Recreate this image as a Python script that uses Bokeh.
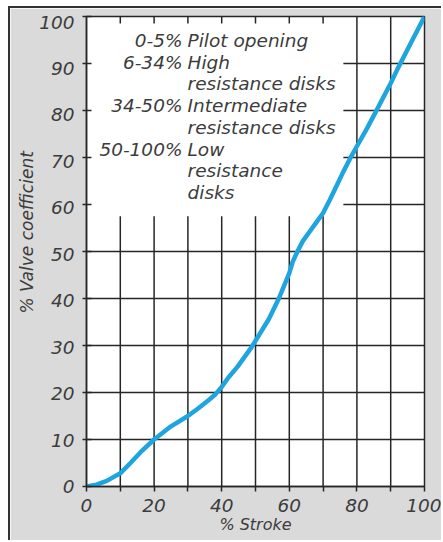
from bokeh.plotting import figure
from bokeh.models import Range1d, FixedTicker, Title, LinearAxis
from bokeh.core.properties import value
from bokeh.embed import file_html
from bokeh.resources import INLINE

# ---- data ----
stroke = [0, 3, 6, 10, 13, 16, 20, 25, 30, 33, 36, 38, 40, 42, 44.7, 48.8, 50, 54, 56.9,
          60, 61, 62.4, 64, 66, 68, 70, 72, 74, 76, 78, 80, 83, 86, 90, 92, 96, 100]
coeff = [0, 0.4, 1.2, 2.8, 5, 7.3, 10, 12.8, 15, 16.6, 18.3, 19.5, 21.2, 23.2, 25.5, 29.6, 31, 35.7, 40,
         45.4, 47.8, 50, 52.2, 54.2, 56.2, 58.2, 61, 64, 67, 69.8, 72.4, 76.2, 80.3, 85.8, 88.8, 94.4, 100]

x_ticks = [0, 20, 40, 60, 80, 100]
x_minor = [10, 30, 50, 70, 90]
y_ticks = [0, 10, 20, 30, 40, 50, 60, 70, 80, 90, 100]

band_ranges = ["0-5%", "6-34%", "34-50%", "50-100%"]
band_texts = [["Pilot opening"],
              ["High", "resistance disks"],
              ["Intermediate", "resistance disks"],
              ["Low", "resistance", "disks"]]

x_title = "% Stroke"
y_title = "% Valve coefficient"

FONT = "DejaVu Sans"
TXT = "#3c3c3c"
GRID = "#262626"
BLUE = "#1ea4df"
BG = "#dadada"

# the printed y labels sit a few pixels below their grid lines near the top
LAB_END = 101.2

p = figure(width=433, height=534, output_backend="svg", toolbar_location=None,
           x_range=Range1d(0, 100), y_range=Range1d(0, 100),
           min_border_left=76, min_border_right=19, min_border_top=8, min_border_bottom=56,
           background_fill_color="white", border_fill_color=BG,
           styles={"margin-left": "8px", "margin-top": "6px",
                   "border-left": "2px solid #333", "border-top": "2px solid #333"})
p.extra_y_ranges = {"lab": Range1d(0, LAB_END)}

p.xgrid.visible = False
p.ygrid.visible = False
p.outline_line_color = GRID
p.outline_line_width = 1.5

# grid lines (interrupted by the text block in the upper left)
vx0, vx1, vy0, vy1 = [], [], [], []
for gx in sorted(x_minor + x_ticks[1:-1]):
    top = 100 if gx >= 80 else 57.5
    vx0.append(gx); vx1.append(gx); vy0.append(0); vy1.append(top)
    if gx < 80:  # short stub under the top edge
        vx0.append(gx); vx1.append(gx); vy0.append(100); vy1.append(98.5)
p.segment(vx0, vy0, vx1, vy1, line_color=GRID, line_width=1.5)

hx0, hx1, hy0, hy1 = [], [], [], []
for gy in y_ticks[1:-1]:
    left = 0 if gy <= 50 else 76
    hx0.append(left); hx1.append(100); hy0.append(gy); hy1.append(gy)
p.segment(hx0, hy0, hx1, hy1, line_color=GRID, line_width=1.5)

# curve
p.line(stroke, coeff, line_width=4.5, line_color=BLUE, line_cap="round", line_join="round")

# annotation text block
row_y0, row_dy = 94.9, 4.62
lx, ly, ltxt = [], [], []
rx, ry, rtxt = [], [], []
row = 0
for rng, lines in zip(band_ranges, band_texts):
    lx.append(28.4); ly.append(row_y0 - row_dy * row); ltxt.append(rng)
    for ln in lines:
        rx.append(29.9); ry.append(row_y0 - row_dy * row); rtxt.append(ln)
        row += 1
common = dict(text_baseline="middle", text_font=value(FONT), text_font_style="italic",
              text_font_size="18.5px", text_color=TXT)
p.text(lx, ly, text=ltxt, text_align="right", **common)
p.text(rx, ry, text=rtxt, text_align="left", **common)

# x axis
xa = p.xaxis[0]
xa.ticker = FixedTicker(ticks=x_ticks, minor_ticks=x_minor)
xa.axis_line_color = GRID
xa.axis_line_width = 1.5
xa.major_tick_line_color = GRID
xa.minor_tick_line_color = GRID
xa.major_tick_line_width = 1.5
xa.minor_tick_line_width = 1.5
xa.major_tick_in = 0
xa.major_tick_out = 5
xa.minor_tick_in = 0
xa.minor_tick_out = 5
xa.major_label_standoff = 7
xa.major_label_text_font = FONT
xa.major_label_text_font_style = "italic"
xa.major_label_text_font_size = "18.5px"
xa.major_label_text_color = TXT
xa.axis_label = x_title
xa.axis_label_standoff = 0
xa.axis_label_text_font = FONT
xa.axis_label_text_font_style = "italic"
xa.axis_label_text_font_size = "16px"
xa.axis_label_text_color = TXT

# y axis: tick marks on the main range (no labels)
ya = p.yaxis[0]
ya.ticker = FixedTicker(ticks=[], minor_ticks=y_ticks)
ya.axis_line_color = GRID
ya.axis_line_width = 1.5
ya.minor_tick_line_color = GRID
ya.minor_tick_line_width = 1.5
ya.minor_tick_in = 5
ya.minor_tick_out = 4
ya.major_tick_in = 0
ya.major_tick_out = 0
ya.major_label_standoff = 0

# y axis: labels (slightly lowered near the top, as printed)
yl = LinearAxis(y_range_name="lab", ticker=FixedTicker(ticks=y_ticks, minor_ticks=[]),
                axis_line_color=None, major_tick_line_color=None,
                minor_tick_line_color=None, major_tick_in=0, major_tick_out=0,
                minor_tick_in=0, minor_tick_out=0,
                major_label_standoff=8, major_label_text_font=FONT,
                major_label_text_font_style="italic", major_label_text_font_size="18.5px",
                major_label_text_color=TXT)
p.add_layout(yl, "left")

p.add_layout(Title(text=y_title, align="left", offset=173, standoff=0,
                   text_font=FONT, text_font_style="italic", text_font_size="17px",
                   text_color=TXT), "left")

open("out.html", "w").write(file_html(p, INLINE))
